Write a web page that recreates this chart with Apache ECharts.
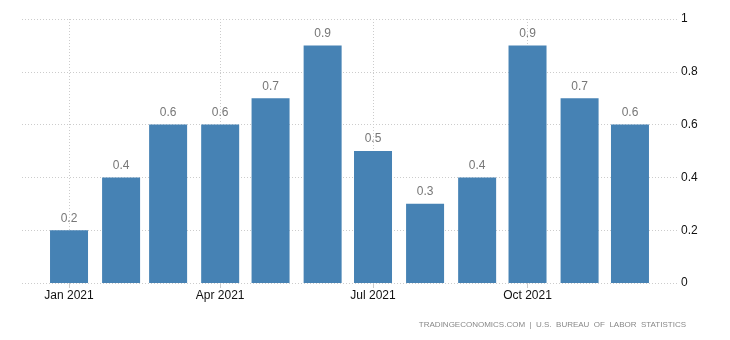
<!DOCTYPE html>
<html>
<head>
<meta charset="utf-8">
<script src="https://cdn.jsdelivr.net/npm/echarts@6/dist/echarts.min.js"></script>
<style>
  html, body { margin: 0; padding: 0; background: #fff; }
  #chart { width: 730px; height: 340px; }
</style>
</head>
<body>
<div id="chart"></div>
<script>
// Monthly change, 2021
const months = ['2021-01-01', '2021-02-01', '2021-03-01', '2021-04-01', '2021-05-01', '2021-06-01',
                '2021-07-01', '2021-08-01', '2021-09-01', '2021-10-01', '2021-11-01', '2021-12-01'];
const values = [0.2, 0.4, 0.6, 0.6, 0.7, 0.9, 0.5, 0.3, 0.4, 0.9, 0.7, 0.6];
const quarterTicks = ['2021-01-01', '2021-04-01', '2021-07-01', '2021-10-01'];
const monthNames = ['Jan', 'Feb', 'Mar', 'Apr', 'May', 'Jun', 'Jul', 'Aug', 'Sep', 'Oct', 'Nov', 'Dec'];
const sourceText = 'TRADINGECONOMICS.COM  |  U.S.  BUREAU  OF  LABOR  STATISTICS';

// x positions are day offsets from the start of 2021, so months keep their true lengths
const DAY = 86400000;
const origin = Date.UTC(2021, 0, 1);
const toDay = s => { const p = s.split('-').map(Number); return Math.round((Date.UTC(p[0], p[1] - 1, p[2]) - origin) / DAY); };
const dayLabel = v => { const d = new Date(origin + v * DAY); return monthNames[d.getUTCMonth()] + ' ' + d.getUTCFullYear(); };
const fontFamily = '"Liberation Sans", Arial, sans-serif';
const tickDays = quarterTicks.map(toDay);

const chart = echarts.init(document.getElementById('chart'));
chart.setOption({
  animation: false,
  grid: { left: 22, right: 53, top: 19, bottom: 57 },
  xAxis: {
    type: 'value',
    min: toDay('2020-12-04'),
    max: toDay('2021-12-29'),
    axisLine: { show: false },
    axisTick: { show: true, length: 5, lineStyle: { color: '#ccc' }, customValues: tickDays },
    axisLabel: {
      customValues: tickDays,
      color: '#111', fontSize: 12, fontFamily: fontFamily, margin: 7,
      formatter: dayLabel
    },
    splitLine: { show: true, lineStyle: { color: '#ccc', type: [1, 2] } }
  },
  yAxis: {
    type: 'value',
    position: 'right',
    min: 0, max: 1, interval: 0.2,
    axisLine: { show: false },
    axisTick: { show: false },
    axisLabel: { color: '#111', fontSize: 12, fontFamily: fontFamily, margin: 4 },
    splitLine: { show: true, lineStyle: { color: '#ccc', type: [1, 2] } }
  },
  series: [{
    type: 'bar',
    barWidth: 38,
    itemStyle: { color: '#4682b4' },
    label: {
      show: true, position: 'top', distance: 6,
      color: '#777', fontSize: 12, fontFamily: fontFamily
    },
    data: months.map((m, i) => [toDay(m), values[i]])
  }],
  graphic: [{
    type: 'text',
    right: 44, top: 321,
    style: { text: sourceText, fill: '#888', font: '8px ' + fontFamily }
  }]
});
</script>
</body>
</html>
